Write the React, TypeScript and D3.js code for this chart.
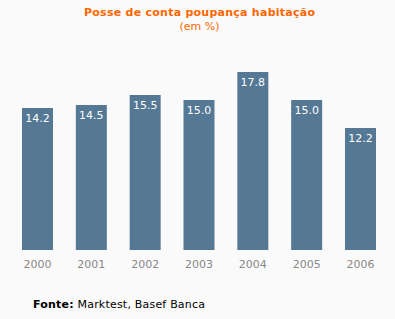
import React from "react";
import * as d3 from "d3";

const years = ["2000", "2001", "2002", "2003", "2004", "2005", "2006"];
const values = [14.2, 14.5, 15.5, 15.0, 17.8, 15.0, 12.2];
const title = "Posse de conta poupança habitação";
const subtitle = "(em %)";
const sourceLabel = "Fonte:";
const sourceText = "Marktest, Basef Banca";

export default function App() {
  const W = 395, H = 319;
  const x = d3.scaleBand<string>().domain(years).range([22, 376]).paddingInner(0.424).paddingOuter(0);
  const y = d3.scaleLinear().domain([0, 20]).range([250, 50]);
  const font = "'DejaVu Sans', Verdana, sans-serif";
  return (
    <svg width={W} height={H} style={{ position: "absolute", left: 0, top: 0, background: "#fafafa" }} fontFamily={font}>
      <rect width={W} height={H} fill="#fafafa" />
      <text x={84} y={16} fontSize={11} fontWeight="bold" fill="#ff6600" textLength={231} lengthAdjust="spacing">{title}</text>
      <text x={199.5} y={30} textAnchor="middle" fontSize={11} fill="#ff6600">{subtitle}</text>
      {years.map((yr, i) => (
        <g key={yr}>
          <rect x={x(yr)} y={y(values[i])} width={x.bandwidth()} height={y(0) - y(values[i])} fill="#557895" />
          <text x={(x(yr) as number) + x.bandwidth() / 2} y={y(values[i]) + 14} textAnchor="middle" fontSize={11} fill="#ffffff">{values[i].toFixed(1)}</text>
          <text x={(x(yr) as number) + x.bandwidth() / 2} y={268} textAnchor="middle" fontSize={11} fill="#888888">{yr}</text>
        </g>
      ))}
      <text x={33} y={308} fontSize={11} fill="#000000" textLength={172} lengthAdjust="spacing">
        <tspan fontWeight="bold">{sourceLabel}</tspan> {sourceText}
      </text>
    </svg>
  );
}
